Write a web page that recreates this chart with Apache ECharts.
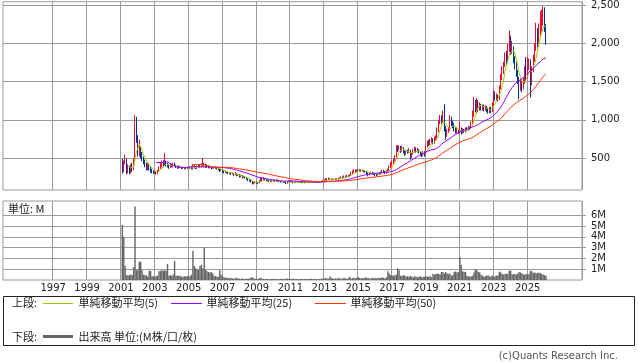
<!DOCTYPE html>
<html><head><meta charset="utf-8">
<script src="https://cdn.jsdelivr.net/npm/echarts@6/dist/echarts.min.js"></script>
<style>html,body{margin:0;padding:0;background:#fff}#c{width:638px;height:362px}</style>
</head><body><div id="c"></div>
<script>
// Monthly axis: 1994-02 .. 2028-03 ; data: 2001-02 .. 2026-02
const axisStartYear = 1994, axisStartMonth = 2, axisMonthCount = 410;
const dataStartYear = 2001, dataStartMonth = 2;
// [open, close, low, high]
const candles = [
 [470,340,300,490],[340,440,320,470],[440,480,420,545],[480,330,290,500],[330,380,300,420],[380,320,290,400],[320,380,300,420],[380,350,320,440],[350,470,340,500],[470,980,460,1062],[980,760,700,1040],
 [760,560,520,800],[560,640,520,740],[640,540,500,660],[540,500,460,580],[500,460,420,520],[460,420,380,480],[420,380,340,440],[380,420,340,450],[420,370,340,430],[370,340,310,390],[340,320,300,360],[320,310,295,340],
 [310,320,295,340],[320,300,285,330],[300,330,290,345],[330,370,320,390],[370,400,360,440],[400,430,380,470],[430,410,380,470],[410,450,400,565],[450,420,390,470],[420,400,380,440],[400,380,360,420],[380,410,370,430],
 [410,395,380,430],[395,420,380,440],[420,400,385,440],[400,385,370,415],[385,375,360,400],[375,390,365,405],[390,380,370,400],[380,370,355,390],[370,375,360,385],[375,365,355,385],[365,370,355,380],[370,375,360,385],
 [375,380,365,395],[380,370,360,390],[370,360,350,385],[360,395,350,420],[395,380,365,410],[380,375,360,395],[375,385,360,400],[385,400,375,420],[400,390,375,415],[390,405,380,430],[405,420,395,500],[420,395,380,440],
 [395,410,370,430],[410,390,375,420],[390,385,370,410],[385,380,365,400],[380,370,355,395],[370,375,360,390],[375,380,365,390],[380,370,360,390],[370,360,350,380],[360,355,340,370],[355,340,320,365],[340,345,330,360],
 [345,330,315,355],[330,320,300,340],[320,325,310,340],[325,310,300,330],[310,300,290,320],[300,305,290,315],[305,295,280,310],[295,300,285,315],[300,290,270,305],[290,295,280,320],[295,275,265,300],[275,280,265,295],
 [280,260,245,290],[260,270,250,285],[270,250,235,280],[250,255,240,265],[255,245,235,265],[245,230,220,255],[230,215,200,240],[215,210,195,225],[210,195,180,220],[195,175,155,200],[175,180,160,190],[180,190,170,200],
 [190,180,165,195],[180,175,160,190],[175,200,170,210],[200,230,195,245],[230,220,205,250],[220,235,210,250],[235,215,205,240],[215,210,200,225],[210,205,195,220],[205,200,190,215],[200,195,185,210],[195,205,190,215],
 [205,210,195,220],[210,200,190,215],[200,215,195,225],[215,205,195,220],[205,195,185,210],[195,190,180,200],[190,195,182,205],[195,190,180,200],[190,185,175,198],[185,175,160,190],[175,190,165,200],[190,200,185,210],
 [200,195,185,210],[195,200,188,210],[200,185,170,205],[185,190,178,198],[190,188,180,196],[188,185,178,195],[185,190,180,198],[190,182,175,195],[182,180,172,190],[180,183,175,190],[183,180,172,188],[180,182,175,190],
 [182,185,178,192],[185,190,180,198],[190,188,182,196],[188,185,178,194],[185,183,176,190],[183,186,178,192],[186,184,178,192],[184,188,180,195],[188,190,182,198],[190,192,185,200],[192,198,188,205],[198,205,195,212],
 [205,215,200,225],[215,225,210,240],[225,218,208,235],[218,230,212,245],[230,222,212,240],[222,220,210,232],[220,225,215,235],[225,222,214,232],[222,228,216,238],[228,224,216,236],[224,232,220,242],[232,240,226,250],
 [240,250,232,262],[250,245,235,262],[245,262,240,275],[262,255,245,272],[255,268,250,282],[268,262,250,278],[262,280,258,292],[280,300,275,318],[300,320,292,340],[320,335,310,360],[335,325,310,350],[325,340,318,355],
 [340,330,315,352],[330,345,322,358],[345,335,322,355],[335,340,325,352],[340,330,315,348],[330,325,310,342],[325,305,285,335],[305,285,262,312],[285,300,275,310],[300,310,292,322],[310,300,288,318],[300,295,280,312],
 [295,285,262,300],[285,280,265,295],[280,300,272,310],[300,295,280,312],[295,310,288,325],[310,330,300,348],[330,320,305,345],[320,310,295,335],[310,325,300,340],[325,340,315,360],[340,380,335,400],[380,420,370,450],
 [420,440,400,470],[440,470,425,490],[470,500,455,540],[500,640,490,670],[640,620,580,665],[620,650,600,670],[650,600,570,660],[600,630,585,660],[630,580,560,645],[580,560,530,600],[560,590,545,610],[590,580,560,610],
 [580,600,565,630],[600,530,480,610],[530,560,500,580],[560,600,545,625],[600,630,585,650],[630,590,570,640],[590,610,575,635],[610,580,560,620],[580,560,530,595],[560,540,515,575],[540,570,525,590],[570,560,520,590],
 [560,650,550,670],[650,700,640,730],[700,680,660,740],[680,710,670,750],[710,730,700,770],[730,700,680,760],[700,740,690,780],[740,770,730,800],[770,850,760,900],[850,960,840,1000],[960,1020,940,1062],[1020,980,950,1060],
 [980,1060,970,1120],[1060,880,850,1205],[880,800,740,920],[800,850,780,880],[850,880,830,910],[880,1000,860,1062],[1000,960,920,1040],[960,920,890,990],[920,870,850,960],[870,850,820,900],[850,860,820,890],[860,840,820,880],
 [840,870,820,980],[870,840,810,900],[840,860,820,890],[860,850,830,880],[850,880,835,900],[880,870,850,905],[870,900,860,920],[900,890,870,915],[890,950,880,980],[950,1050,940,1120],[1050,1200,1040,1300],[1200,1150,1100,1260],
 [1150,1230,1080,1285],[1230,1170,1100,1260],[1170,1190,1120,1230],[1190,1150,1120,1210],[1150,1180,1120,1200],[1180,1140,1110,1200],[1140,1160,1120,1190],[1160,1130,1100,1180],[1130,1110,1080,1160],[1110,1140,1090,1170],[1140,1120,1084,1170],[1120,1200,1100,1230],
 [1200,1340,1190,1387],[1340,1290,1250,1370],[1290,1310,1250,1345],[1310,1270,1240,1330],[1270,1420,1260,1450],[1420,1560,1400,1600],[1560,1640,1520,1700],[1640,1720,1600,1760],[1720,1830,1690,1880],[1830,1780,1720,1900],[1780,1920,1760,1990],[1920,1990,1880,2166],
 [1990,1900,1850,2100],[1900,1930,1860,2030],[1930,1790,1740,1960],[1790,1700,1660,1830],[1700,1600,1560,1760],[1600,1520,1470,1650],[1520,1450,1270,1560],[1450,1480,1380,1540],[1480,1430,1360,1520],[1430,1510,1400,1550],[1510,1620,1470,1700],[1620,1560,1500,1820],
 [1560,1700,1540,1820],[1700,1760,1650,1800],[1760,1520,1294,1790],[1520,1650,1450,1700],[1650,1800,1620,1850],[1800,1950,1760,2000],[1950,2100,1900,2268],[2100,2000,1950,2200],[2000,2150,1980,2260],[2150,2200,2100,2420],[2200,2250,2150,2440],[2250,2380,2230,2482],
 [2380,2180,2150,2470],[2180,2000,1980,2250]
];
// monthly volume, millions
const volumes = [
 5.1,4.0,1.3,0.45,0.45,0.45,0.5,0.45,1.2,6.8,0.9,
 0.9,1.7,1.7,0.9,0.5,0.45,0.45,0.3,0.85,0.85,0.35,0.35,
 0.3,0.35,0.4,0.8,0.85,0.9,0.85,0.9,0.85,1.5,0.4,0.45,
 0.4,0.5,1.75,0.4,0.4,0.4,0.4,0.3,0.3,0.35,0.35,0.35,
 0.35,0.35,0.5,2.7,1.3,1.1,1.0,0.95,1.3,1.4,1.1,3.0,
 0.95,0.8,0.75,0.7,0.75,0.6,0.4,0.35,0.3,0.3,0.9,0.5,
 0.3,0.25,0.2,0.2,0.18,0.15,0.2,0.15,0.12,0.15,0.2,0.15,
 0.12,0.1,0.15,0.1,0.12,0.1,0.15,0.12,0.2,0.25,0.15,0.1,
 0.12,0.1,0.15,0.2,0.12,0.1,0.1,0.12,0.1,0.08,0.1,0.1,
 0.1,0.12,0.1,0.08,0.1,0.1,0.12,0.1,0.08,0.15,0.12,0.1,
 0.12,0.1,0.15,0.08,0.1,0.1,0.08,0.1,0.1,0.08,0.1,0.1,
 0.08,0.1,0.12,0.1,0.08,0.1,0.1,0.08,0.1,0.1,0.12,0.15,
 0.15,0.2,0.15,0.12,0.35,0.2,0.15,0.12,0.15,0.12,0.2,0.15,
 0.15,0.12,0.2,0.15,0.12,0.15,0.3,0.15,0.2,0.2,0.15,0.2,
 0.25,0.2,0.15,0.2,0.15,0.25,0.2,0.2,0.15,0.15,0.2,0.15,
 0.2,0.15,0.2,0.15,0.2,0.25,0.2,0.15,0.25,0.8,0.6,0.45,
 0.45,0.4,0.45,0.5,1.1,0.9,0.4,0.35,0.45,0.4,0.3,0.35,
 0.3,0.4,0.3,0.25,0.35,0.3,0.25,0.3,0.35,0.25,0.3,0.3,
 0.35,0.3,0.3,0.35,0.25,0.55,0.5,0.55,0.6,0.55,0.5,0.75,
 0.75,0.6,0.75,0.6,0.55,0.6,0.4,0.45,0.75,0.8,0.7,0.75,
 2.1,1.4,0.8,0.77,0.75,0.4,0.35,0.3,0.35,0.4,0.7,1.0,
 0.9,0.77,0.7,0.5,0.4,0.3,0.35,0.4,0.45,0.3,0.35,0.4,
 0.3,0.35,0.4,0.45,0.77,0.7,0.55,0.5,0.55,0.6,0.55,0.86,
 0.86,0.5,0.55,0.55,0.5,0.6,0.75,0.7,0.6,0.5,0.5,0.55,
 0.5,0.55,0.86,0.8,0.65,0.7,0.6,0.65,0.7,0.65,0.55,0.5,
 0.45,0.4
];
const yearLabels = ['1997','1999','2001','2003','2005','2007','2009','2011','2013','2015','2017','2019','2021','2023','2025'];
const priceTicks = [500,1000,1500,2000,2500];
const volumeTicks = [1,2,3,4,5,6];
const maPeriods = [5,25,50];
const maNames = ['単純移動平均(5)','単純移動平均(25)','単純移動平均(50)'];
const maColors = ['#99cc00','#9900ff','#ff3300'];

// build month categories
const months = [];
for (let i = 0; i < axisMonthCount; i++) {
  const mi = (axisStartMonth - 1) + i;
  const y = axisStartYear + Math.floor(mi / 12);
  const m = mi % 12 + 1;
  months.push(y + '-' + (m < 10 ? '0' + m : m));
}
const offset = (dataStartYear - axisStartYear) * 12 + (dataStartMonth - axisStartMonth);
const pad = (arr, empty) => {
  const out = [];
  for (let i = 0; i < axisMonthCount; i++) {
    const j = i - offset;
    out.push(j >= 0 && j < arr.length ? arr[j] : empty);
  }
  return out;
};
const closes = candles.map(c => c[1]);
function sma(n) {
  return closes.map((v, i) => {
    if (i < n - 1) return '-';
    let s = 0; for (let k = i - n + 1; k <= i; k++) s += closes[k];
    return +(s / n).toFixed(2);
  });
}
const isGridMonth = (v) => {
  const [y, m] = v.split('-');
  return m === '01' && yearLabels.indexOf(y) >= 0;
};

const chart = echarts.init(document.getElementById('c'), null, {renderer: 'canvas'});
const font = 'DejaVu Sans';
const gridColor = '#9a9a9a';
const option = {
  animation: false,
  grid: [
    {left: 3, right: 56, top: 1, height: 189, show: true, borderColor: gridColor, borderWidth: 1, backgroundColor: '#fff'},
    {left: 3, right: 56, top: 201, height: 79, show: true, borderColor: gridColor, borderWidth: 1, backgroundColor: '#fff'}
  ],
  xAxis: [
    {type: 'category', gridIndex: 0, data: months, boundaryGap: true,
     axisLine: {show: false}, axisTick: {show: false}, axisLabel: {show: false},
     splitLine: {show: true, interval: (i, v) => isGridMonth(v), lineStyle: {color: gridColor, width: 1}}},
    {type: 'category', gridIndex: 1, data: months, boundaryGap: true,
     axisLine: {show: false}, axisTick: {show: false},
     axisLabel: {show: true, interval: (i, v) => isGridMonth(v), formatter: v => v.slice(0, 4),
                 fontFamily: font, fontSize: 10, color: '#222', margin: 3},
     splitLine: {show: true, interval: (i, v) => isGridMonth(v), lineStyle: {color: gridColor, width: 1}}}
  ],
  yAxis: [
    {type: 'value', gridIndex: 0, position: 'right', min: 84, max: 2543,
     axisLine: {show: false},
     axisTick: {show: true, length: 4, customValues: priceTicks, lineStyle: {color: gridColor}},
     axisLabel: {show: true, customValues: priceTicks, formatter: v => v.toLocaleString('en-US'),
                 fontFamily: font, fontSize: 10, color: '#222', margin: 9},
     splitLine: {show: true, lineStyle: {color: gridColor, width: 1}}},
    {type: 'value', gridIndex: 1, position: 'right', min: 0, max: 7.32,
     axisLine: {show: false},
     axisTick: {show: true, length: 4, customValues: volumeTicks, lineStyle: {color: gridColor}},
     axisLabel: {show: true, customValues: volumeTicks, formatter: v => v + 'M',
                 fontFamily: font, fontSize: 10, color: '#222', margin: 9},
     splitLine: {show: true, lineStyle: {color: gridColor, width: 1}}}
  ],
  series: [
    {type: 'candlestick', xAxisIndex: 0, yAxisIndex: 0, data: pad(candles, ['-','-','-','-']),
     barWidth: 1,
     itemStyle: {color: '#ff0033', color0: '#003399', borderColor: '#ff0033', borderColor0: '#003399', borderWidth: 1}},
  ].concat(maPeriods.map((p, k) => ({
     type: 'line', name: maNames[k], xAxisIndex: 0, yAxisIndex: 0, data: pad(sma(p), '-'),
     showSymbol: false, symbol: 'none', connectNulls: false,
     lineStyle: {color: maColors[k], width: 1}, z: 3
  }))).concat([
    {type: 'bar', name: '出来高', xAxisIndex: 1, yAxisIndex: 1, data: pad(volumes, '-'),
     barCategoryGap: '0%', itemStyle: {color: '#666666'}}
  ]),
  graphic: [
    {type: 'text', left: 8, top: 203, style: {text: '単位: M', font: '11px "Noto Sans CJK JP"', fill: '#222'}, z: 10},
    {type: 'rect', shape: {x: 3.5, y: 296.5, width: 631, height: 49}, style: {fill: '#fff', stroke: '#222', lineWidth: 1}},
    {type: 'text', x: 12, y: 303, style: {text: '上段:', font: '11px "Noto Sans CJK JP"', fill: '#222', textVerticalAlign: 'middle'}},
    {type: 'line', shape: {x1: 43, y1: 303.5, x2: 73, y2: 303.5}, style: {stroke: maColors[0], lineWidth: 1}},
    {type: 'text', x: 78.5, y: 303, style: {text: maNames[0], font: '11px "Noto Sans CJK JP"', fill: '#222', textVerticalAlign: 'middle'}},
    {type: 'line', shape: {x1: 171, y1: 303.5, x2: 202, y2: 303.5}, style: {stroke: maColors[1], lineWidth: 1}},
    {type: 'text', x: 206.5, y: 303, style: {text: maNames[1], font: '11px "Noto Sans CJK JP"', fill: '#222', textVerticalAlign: 'middle'}},
    {type: 'line', shape: {x1: 315, y1: 303.5, x2: 346, y2: 303.5}, style: {stroke: maColors[2], lineWidth: 1}},
    {type: 'text', x: 350.5, y: 303, style: {text: maNames[2], font: '11px "Noto Sans CJK JP"', fill: '#222', textVerticalAlign: 'middle'}},
    {type: 'text', x: 12, y: 336.5, style: {text: '下段:', font: '11px "Noto Sans CJK JP"', fill: '#222', textVerticalAlign: 'middle'}},
    {type: 'line', shape: {x1: 43, y1: 336.5, x2: 73, y2: 336.5}, style: {stroke: '#666666', lineWidth: 3}},
    {type: 'text', x: 78.5, y: 336.5, style: {text: '出来高 単位:(M株/口/枚)', font: '11px "Noto Sans CJK JP"', fill: '#222', textVerticalAlign: 'middle'}},
    {type: 'text', x: 618, y: 356, style: {text: '(c)Quants Research Inc.', font: '10px "DejaVu Sans"', fill: '#555', textAlign: 'right', textVerticalAlign: 'middle'}}
  ]
};
chart.setOption(option);
</script></body></html>
